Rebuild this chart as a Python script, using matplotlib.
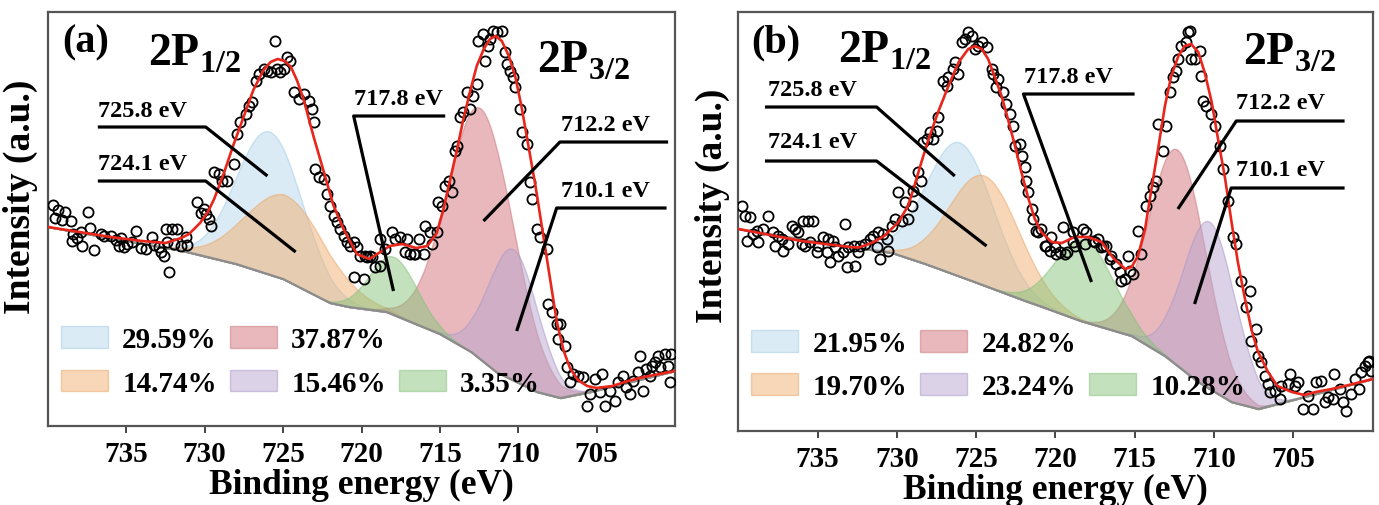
import numpy as np
import matplotlib
matplotlib.use("Agg")
import matplotlib.pyplot as plt
from matplotlib.patches import Patch

plt.rcParams['font.family'] = 'serif'
plt.rcParams['font.serif'] = ['Liberation Serif', 'DejaVu Serif']
plt.rcParams['font.weight'] = 'bold'
plt.rcParams['mathtext.fontset'] = 'custom'
plt.rcParams['mathtext.rm'] = 'Liberation Serif'
plt.rcParams['mathtext.bf'] = 'Liberation Serif:bold'

# ---------------- panel (a) data ----------------
a_pts_e = [739.71, 739.54, 739.35, 739.08, 738.93, 738.55, 738.44, 738.40, 738.12, 737.91, 737.80, 737.44,
           737.31, 737.06, 736.63, 736.42, 736.00, 735.68, 735.47, 735.36, 735.15, 734.94, 734.62, 734.41,
           734.09, 733.77, 733.34, 733.24, 732.92, 732.81, 732.60, 732.49, 732.39, 732.28, 732.07, 731.96,
           731.75, 731.54, 731.22, 731.11, 730.48, 730.27, 730.05, 729.95, 729.73, 729.63, 729.42, 729.10,
           728.89, 728.57, 728.14, 727.93, 727.72, 727.40, 727.19, 726.97, 726.76, 726.55, 726.23, 726.02,
           725.80, 725.49, 725.38, 725.17, 724.96, 724.75, 724.53, 724.32, 724.00, 723.69, 723.37, 723.15,
           723.05, 722.94, 722.73, 722.41, 722.20, 721.99, 721.78, 721.56, 721.35, 721.14, 720.92, 720.71,
           720.50, 720.29, 720.08, 720.50, 719.87, 719.76, 719.44, 719.65, 719.34, 719.12, 718.80, 718.80,
           718.49, 718.06, 717.85, 717.53, 717.21, 717.11, 716.90, 716.58, 716.36, 716.00, 716.68, 715.94,
           715.62, 715.50, 715.20, 715.09, 714.88, 714.66, 714.45, 714.24, 714.03, 713.92, 713.71, 713.50,
           713.28, 713.07, 712.86, 712.65, 712.54, 712.22, 712.12, 711.90, 711.80, 711.59, 711.37, 711.06,
           710.84, 710.74, 710.52, 710.31, 710.21, 709.89, 709.78, 709.46, 709.25, 709.14, 708.83, 708.61,
           708.19, 708.08, 707.87, 707.55, 707.34, 707.45, 707.02, 706.92, 706.70, 706.49, 706.17, 705.86,
           705.64, 705.43, 705.11, 704.79, 704.69, 704.47, 704.16, 703.84, 703.63, 703.31, 703.10, 702.88,
           702.67, 702.35, 702.25, 702.03, 701.82, 701.61, 701.50, 701.29, 701.08, 700.97, 700.65, 700.44,
           700.33, 700.23]
a_pts_i = [221, 208, 216, 206, 214, 205, 185, 192, 188, 194, 180, 214,
           198, 176, 192, 190, 190, 186, 180, 188, 179, 182, 184, 195,
           178, 177, 189, 181, 179, 174, 170, 197, 184, 154, 197, 182,
           197, 180, 189, 181, 224, 213, 217, 212, 207, 200, 254, 252,
           245, 245, 262, 292, 304, 312, 320, 324, 345, 352, 357, 355,
           354, 385, 357, 354, 357, 369, 365, 334, 327, 332, 325, 317,
           304, 257, 249, 247, 232, 220, 210, 204, 197, 190, 184, 180,
           184, 179, 170, 149, 147, 170, 170, 169, 169, 159, 187, 160,
           177, 194, 187, 189, 174, 187, 172, 172, 187, 172, 172, 200,
           194, 182, 194, 224, 220, 240, 245, 234, 275, 280, 309, 314,
           334, 317, 330, 342, 385, 392, 365, 380, 387, 395, 394, 395,
           374, 362, 355, 349, 339, 317, 294, 282, 244, 227, 197, 189,
           177, 122, 114, 102, 102, 87, 80, 59, 44, 52, 50, 49,
           20, 32, 47, 34, 52, 20, 35, 25, 44, 50, 39, 32,
           45, 54, 70, 35, 57, 50, 60, 64, 70, 59, 72, 60,
           44, 72]

a_fit_e = [740, 738, 736, 734, 732.5, 731.5, 731, 730.3, 729.8, 729.4, 728.8, 728.15, 727.5, 726.9,
           726.25, 725.8, 725.35, 724.9, 724.5, 724.1, 723.7, 723.05, 722.4, 721.8, 721.15, 720.3,
           719.5, 718.8, 718.2, 717.4, 716.5, 715.8, 715.2, 714.8, 714.35, 713.9, 713.5, 713.05,
           712.65, 712.2, 711.8, 711.45, 711.05, 710.6, 710.2, 709.8, 709.35, 708.9, 708.5, 708.0,
           707.55, 707.1, 706.7, 706.2, 705.6, 705.0, 704, 703, 702, 701, 700]
a_fit_i = [199, 194, 189, 185, 183, 188, 192, 203, 214, 227, 252, 282, 310, 336,
           356, 364, 367, 365, 359, 345, 327, 289, 254, 221, 197, 172,
           167, 174, 180, 182, 178, 180, 193, 215, 246, 277, 307, 336,
           360, 377, 387, 390, 385, 370, 350, 320, 280, 240, 200, 150,
           105, 75, 58, 46, 40, 38, 40, 45, 49, 52, 55]

a_bg_e = [740, 735, 731.4, 728, 725, 722, 720.8, 718.4, 715, 713, 711.4, 708.8, 707.3, 705.4, 700]
a_bg_i = [199, 185, 175, 162, 147, 123, 119, 114, 92, 74, 54, 34, 28, 34, 55]

# peak components: centre (eV), height above background, sigma (eV)
a_centre = [725.9, 724.8, 712.4, 710.35, 717.95]
a_height = [143, 85, 251, 131, 58]
a_sigma = [2.1, 2.6, 2.1, 1.6, 1.5]
a_share = ['29.59%', '14.74%', '37.87%', '15.46%', '3.35%']

# ---------------- panel (b) data ----------------
b_pts_e = [739.79, 739.58, 739.47, 739.26, 739.05, 738.84, 738.74, 738.42, 738.11, 737.79, 737.69, 737.48,
           737.27, 737.20, 736.85, 736.64, 736.43, 736.22, 736.00, 735.90, 735.80, 735.59, 735.48, 735.27,
           735.06, 734.96, 734.64, 734.43, 734.33, 734.22, 734.01, 733.91, 733.70, 733.38, 733.28, 733.17,
           733.07, 732.70, 732.65, 732.44, 732.33, 732.02, 731.70, 731.49, 731.28, 731.18, 731.07, 730.86,
           730.60, 730.55, 730.34, 730.13, 729.92, 729.71, 729.50, 729.29, 729.05, 728.97, 728.66, 728.45,
           728.34, 728.13, 727.92, 727.71, 727.50, 727.39, 727.08, 726.87, 726.76, 726.45, 726.34, 726.13,
           725.92, 725.71, 725.50, 725.29, 725.08, 724.87, 724.66, 724.35, 724.03, 723.93, 723.72, 723.61,
           723.30, 723.09, 722.88, 722.67, 722.56, 722.25, 722.14, 721.93, 721.83, 721.72, 721.51, 721.41,
           721.20, 721.09, 720.89, 720.68, 720.57, 720.36, 720.26, 720.05, 719.94, 719.73, 719.52, 719.42,
           719.30, 718.89, 718.79, 718.89, 718.26, 718.16, 718.05, 717.63, 717.50, 717.32, 717.11, 717.00,
           716.79, 716.58, 716.48, 716.16, 715.95, 715.85, 715.64, 715.43, 715.32, 715.11, 714.80, 714.59,
           714.27, 714.06, 713.85, 713.64, 713.54, 713.22, 713.01, 712.80, 712.59, 712.38, 712.28, 712.07,
           711.75, 711.64, 711.54, 711.44, 711.23, 710.91, 710.81, 710.70, 710.49, 710.18, 709.97, 709.65,
           709.44, 709.13, 708.81, 708.60, 708.29, 707.97, 707.76, 707.65, 707.34, 707.24, 707.03, 706.81,
           706.60, 706.50, 706.18, 705.87, 705.76, 705.34, 705.24, 704.92, 704.71, 704.40, 704.08, 703.77,
           703.56, 703.24, 703.03, 702.82, 702.51, 702.41, 702.09, 701.88, 701.67, 701.36, 701.14, 700.83,
           700.72, 700.51, 700.30, 700.20, 700.09]
b_pts_i = [225, 215, 190, 214, 197, 200, 189, 202, 215, 199, 185, 195,
           192, 180, 187, 205, 202, 199, 187, 210, 185, 210, 189, 210,
           179, 185, 194, 179, 192, 169, 190, 184, 175, 179, 207, 164,
           184, 185, 165, 179, 185, 187, 192, 195, 184, 199, 172, 197,
           192, 180, 205, 212, 239, 210, 229, 212, 225, 240, 259, 250,
           289, 292, 299, 292, 300, 314, 350, 345, 354, 362, 369, 357,
           389, 392, 399, 395, 382, 385, 389, 384, 362, 357, 344, 352,
           339, 327, 317, 305, 285, 287, 275, 264, 250, 239, 222, 212,
           200, 199, 202, 185, 185, 180, 194, 184, 177, 179, 204, 177,
           179, 199, 185, 189, 202, 187, 199, 190, 189, 192, 184, 185,
           185, 172, 175, 167, 159, 150, 152, 175, 160, 157, 200, 177,
           225, 235, 244, 250, 307, 280, 305, 339, 354, 360, 372, 385,
           389, 399, 400, 372, 372, 380, 355, 330, 325, 317, 305, 285,
           262, 230, 194, 187, 150, 124, 140, 90, 102, 75, 69, 55,
           47, 39, 40, 32, 45, 47, 57, 45, 49, 22, 35, 22,
           49, 50, 29, 34, 32, 57, 42, 29, 20, 37, 52, 42,
           59, 65, 69, 70, 60]

b_fit_e = [740, 738, 736, 734, 733, 732.4, 731.6, 730.8, 729.9, 729.3, 728.9, 728.45, 728.0, 727.4,
           726.75, 726.1, 725.5, 725.1, 724.65, 724.25, 723.85, 723.4, 723.0, 722.55, 722.15, 721.7,
           721.3, 720.9, 720.25, 719.6, 718.8, 717.95, 717.1, 716.3, 715.6, 715.2, 714.8, 714.35,
           713.95, 713.5, 713.1, 712.7, 712.25, 711.85, 711.45, 711.0, 710.6, 710.15, 709.75, 709.3,
           708.9, 708.5, 708.05, 707.65, 707.25, 706.6, 706.0, 705.1, 704.3, 703.6, 702.6, 701.5,
           700.5, 700]
b_fit_i = [202, 196, 190, 186, 184, 183.5, 188, 195, 209, 225, 245, 269, 292, 319,
           345, 369, 382, 385, 382, 372, 355, 335, 312, 285, 259, 232,
           212, 199, 189, 188, 194, 194, 189, 172, 162, 164, 175, 202,
           242, 285, 325, 355, 375, 385, 387, 379, 359, 329, 292, 252,
           209, 169, 132, 102, 80, 59, 45, 39, 36, 39, 42, 46,
           50, 52]

b_bg_e = [740, 735, 730.3, 728.2, 725.1, 721.9, 721, 718.4, 715.2, 713.1, 711, 708.9, 707.2, 705.5, 700]
b_bg_i = [202, 189, 178, 167, 149, 130, 125, 110, 95, 75, 49, 29, 22, 29, 52]

b_centre = [726.05, 724.5, 712.3, 710.3, 718.2]
b_height = [134, 110, 216, 167, 82]
b_sigma = [2.1, 2.2, 1.8, 1.65, 1.85]
b_share = ['21.95%', '19.70%', '24.82%', '23.24%', '10.28%']

labels_ev = ['725.8 eV', '724.1 eV', '717.8 eV', '712.2 eV', '710.1 eV']
fill_colors = ['#b9d9ed', '#f1b171', '#d3737b', '#b9a7d1', '#87c57b']
edge_colors = ['#9fcbe6', '#eaa567', '#c9737a', '#a895c6', '#86bf7c']

# leader lines: (text x, text y, line xs, line ys) in data units
a_notes = [(736.8, 310, [736.82, 729.94, 726.0], [299, 299, 250]),
           (736.8, 257, [736.82, 729.94, 724.2], [245, 245, 174]),
           (720.5, 322, [714.66, 720.5, 717.96], [310, 310, 135]),
           (707.3, 296, [700.44, 707.34, 712.22], [284, 284, 205]),
           (707.3, 230, [700.54, 707.55, 710.1], [218, 218, 95])]
b_notes = [(738.1, 336, [738.32, 731.28, 726.35], [324, 324, 255]),
           (738.1, 284, [738.32, 731.28, 724.35], [270, 270, 185]),
           (722.0, 349, [715.01, 722.02, 717.73], [337, 337, 149]),
           (708.6, 323, [701.77, 708.6, 712.28], [310, 310, 222]),
           (708.6, 256, [701.77, 708.92, 711.23], [243, 243, 127])]


def draw_panel(ax, pts_e, pts_i, fit_e, fit_i, bg_e, bg_i, centre, height, sigma,
               share, notes, ymax, tag, sub_pos, ylab_xy):
    grid = np.linspace(700, 740, 801)
    bg = np.interp(grid, bg_e[::-1], bg_i[::-1])
    handles = []
    for c, h, s, fc, ec in zip(centre, height, sigma, fill_colors, edge_colors):
        peak = h * np.exp(-(grid - c) ** 2 / (2 * s ** 2))
        p = ax.fill_between(grid, bg, bg + peak, facecolor=fc, edgecolor=ec,
                            alpha=0.5, lw=1.0, zorder=2)
        handles.append(p)
    ax.plot(bg_e, bg_i, color='#8c8c8c', lw=1.6, zorder=3)
    ax.plot(pts_e, pts_i, 'o', mfc='none', mec='black', ms=7.3, mew=1.3, zorder=4)
    ax.plot(fit_e, fit_i, color='#e8261c', lw=1.9, zorder=5)

    for k, (tx, ty, lx, ly) in enumerate(notes):
        ax.plot(lx, ly, color='black', lw=2.3, zorder=6, solid_capstyle='butt')
        ax.text(tx, ty, labels_ev[k], fontsize=17.5, fontweight='bold',
                ha='left', va='baseline', zorder=7)

    ax.text(tag[1], tag[2], tag[0], transform=ax.transAxes, fontsize=29,
            fontweight='bold', ha='left', va='baseline')
    ax.text(sub_pos[0][0], sub_pos[0][1], r'$\mathbf{2P}_{\mathbf{1/2}}$',
            transform=ax.transAxes, fontsize=33, ha='left', va='baseline')
    ax.text(sub_pos[1][0], sub_pos[1][1], r'$\mathbf{2P}_{\mathbf{3/2}}$',
            transform=ax.transAxes, fontsize=33, ha='left', va='baseline')

    # empty slot so the last entry sits in the second row, third column
    blank = Patch(facecolor='none', edgecolor='none', label=' ')
    order = [handles[0], handles[1], handles[2], handles[3], blank, handles[4]]
    names = [share[0], share[1], share[2], share[3], ' ', share[4]]
    ax.legend(order, names, ncol=3, loc='upper left', bbox_to_anchor=(-0.012, 0.29),
              frameon=False, fontsize=21, handlelength=1.6, handleheight=0.78,
              handletextpad=0.5, columnspacing=0.45, labelspacing=0.55, borderpad=0.2)

    ax.set_xlim(740, 700)
    ax.set_ylim(0, ymax)
    ax.set_xticks([735, 730, 725, 720, 715, 710, 705])
    ax.set_yticks([])
    ax.tick_params(axis='x', direction='out', length=5, width=1.4, color='#444444',
                   labelsize=21, pad=5)
    for lab in ax.get_xticklabels():
        lab.set_fontweight('bold')
    for sp in ax.spines.values():
        sp.set_color('#555555')
        sp.set_linewidth(1.6)
    ax.set_xlabel('Binding energy (eV)', fontsize=25.5, fontweight='bold', labelpad=1)
    ax.set_ylabel('Intensity (a.u.)', fontsize=27, fontweight='bold')
    ax.yaxis.set_label_coords(ylab_xy[0], ylab_xy[1])


fig = plt.figure(figsize=(13.79, 5.06), dpi=100)
ax_a = fig.add_axes([0.0348, 0.1561, 0.4547, 0.8182])
ax_b = fig.add_axes([0.5354, 0.1462, 0.4600, 0.8281])

draw_panel(ax_a, a_pts_e, a_pts_i, a_fit_e, a_fit_i, a_bg_e, a_bg_i, a_centre, a_height,
           a_sigma, a_share, a_notes, 414, ('(a)', 0.022, 0.905),
           [(0.159, 0.874), (0.78, 0.857)], (-0.016, 0.555))
draw_panel(ax_b, b_pts_e, b_pts_i, b_fit_e, b_fit_i, b_bg_e, b_bg_i, b_centre, b_height,
           b_sigma, b_share, b_notes, 419, ('(b)', 0.021, 0.905),
           [(0.157, 0.881), (0.796, 0.876)], (-0.013, 0.54))

plt.savefig("out.png", dpi=100)
